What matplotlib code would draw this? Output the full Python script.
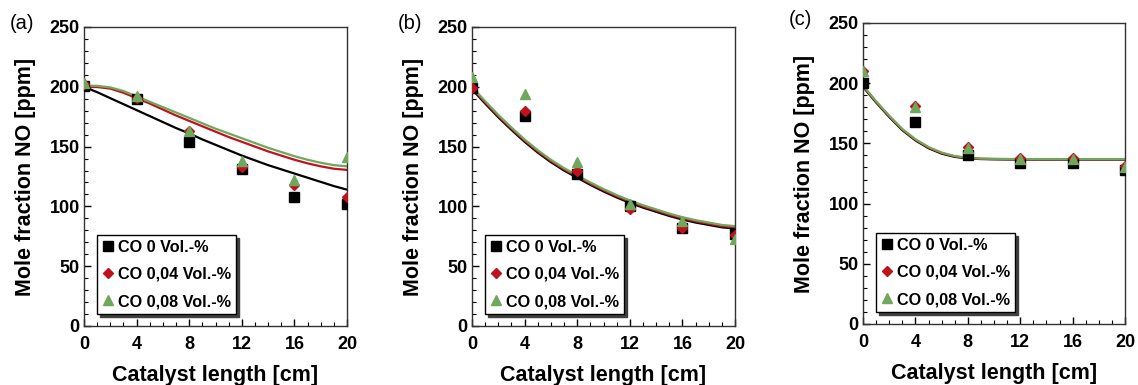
import matplotlib
matplotlib.use("Agg")
import matplotlib.pyplot as plt
from matplotlib.ticker import MultipleLocator

plt.rcParams['font.family'] = ['Liberation Sans', 'DejaVu Sans']

# measured points
x_meas = [0, 4, 8, 12, 16, 20]

a_co0 = [201, 190, 154, 131, 108, 102]
a_co004 = [202, 191, 163, 133, 118, 108]
a_co008 = [203, 192, 163, 138, 122, 141]

b_co0 = [199, 176, 127, 100, 82, 77]
b_co004 = [199, 180, 130, 98, 82, 76]
b_co008 = [208, 194, 137, 102, 88, 73]

c_co0 = [200, 168, 140, 134, 134, 128]
c_co004 = [210, 181, 147, 138, 138, 131]
c_co008 = [210, 180, 146, 137, 137, 130]

# model curves
x_model = [0, 1, 2, 3, 4, 5, 6, 7, 8, 9, 10, 11, 12, 13, 14, 15, 16, 17, 18, 19, 20]

a_m0 = [200, 195.5, 190.5, 185.5, 180.5, 175.5, 170.5, 165.5, 161, 156, 151.5, 147, 142.5, 138.5, 134.5, 131, 127.5, 124, 120.5, 117, 114]
a_m004 = [200, 199.8, 198.5, 195, 190.5, 186, 181, 176, 171.5, 167, 162.5, 158, 154, 150, 146, 142.5, 139, 136, 133.5, 131.5, 130.5]
a_m008 = [201, 200.8, 199.5, 196.5, 192, 187.5, 183, 178.5, 174, 169.5, 165, 161, 157, 153, 149, 145.5, 142, 139, 136.5, 134.5, 133.5]

b_m0 = [198, 186, 174.5, 164, 154, 145, 137, 130, 124, 118, 112.5, 107.5, 103, 99, 95.5, 92, 89, 86.5, 84.5, 82.5, 81.5]
b_m004 = [199, 187, 175.5, 165, 155, 146, 138, 131, 125, 119, 113.5, 108.5, 104, 100, 96.5, 93, 90, 87.5, 85.5, 83.5, 82.5]
b_m008 = [200, 188, 176.5, 166, 156, 147, 139, 132, 126, 120, 114.5, 109.5, 105, 101, 97.5, 94, 91, 88.5, 86.5, 84.5, 83.5]

c_m0 = [197, 184, 172, 161, 152.5, 146, 141.5, 138.8, 137.5, 137, 136.8, 136.7, 136.6, 136.6, 136.6, 136.6, 136.6, 136.6, 136.6, 136.6, 136.6]
c_m004 = [197.5, 184.5, 172.5, 161.5, 153, 146.5, 142, 139.2, 137.8, 137.2, 137, 136.9, 136.8, 136.8, 136.8, 136.8, 136.8, 136.8, 136.8, 136.8, 136.8]
c_m008 = [198, 185, 173, 162, 153.5, 147, 142.4, 139.5, 138, 137.4, 137.2, 137.1, 137, 137, 137, 137, 137, 137, 137, 137, 137]

labels = ["CO 0 Vol.-%", "CO 0,04 Vol.-%", "CO 0,08 Vol.-%"]
panel_names = ["(a)", "(b)", "(c)"]

BLACK = "#000000"
RED = "#c0121c"
GREEN = "#6fa85c"

fig = plt.figure(figsize=(11.38, 3.85), dpi=100)

positions = [
    [84 / 1138, 1 - 326 / 385, 263 / 1138, 299 / 385],
    [472 / 1138, 1 - 326 / 385, 263 / 1138, 299 / 385],
    [863 / 1138, 1 - 324 / 385, 262 / 1138, 301 / 385],
]

panels = [
    (a_co0, a_co004, a_co008, a_m0, a_m004, a_m008),
    (b_co0, b_co004, b_co008, b_m0, b_m004, b_m008),
    (c_co0, c_co004, c_co008, c_m0, c_m004, c_m008),
]

for i, (pos, data) in enumerate(zip(positions, panels)):
    ax = fig.add_axes(pos)
    s0, s1, s2, m0, m1, m2 = data
    ax.plot(x_model, m0, color=BLACK, lw=1.6, zorder=2)
    ax.plot(x_model, m1, color=RED, lw=1.6, zorder=2)
    ax.plot(x_model, m2, color=GREEN, lw=1.6, zorder=2)
    h0, = ax.plot(x_meas, s0, 's', color=BLACK, ms=6.5, ls='none', zorder=3, label=labels[0])
    h1, = ax.plot(x_meas, s1, 'D', color=RED, ms=5.5, ls='none', zorder=4, label=labels[1])
    h2, = ax.plot(x_meas, s2, '^', color=GREEN, ms=7.5, ls='none', zorder=5, label=labels[2])

    ax.set_xlim(0, 20)
    ax.set_ylim(0, 250)
    ax.xaxis.set_major_locator(MultipleLocator(4))
    ax.xaxis.set_minor_locator(MultipleLocator(1))
    ax.yaxis.set_major_locator(MultipleLocator(50))
    ax.yaxis.set_minor_locator(MultipleLocator(10))
    ax.tick_params(axis='both', which='both', direction='in', top=False, right=False)
    ax.tick_params(axis='both', which='major', length=5, width=1, labelsize=13)
    ax.tick_params(axis='x', which='major', pad=7)
    ax.tick_params(axis='y', which='major', pad=3)
    ax.tick_params(axis='both', which='minor', length=3, width=0.8)
    for lab in ax.get_xticklabels() + ax.get_yticklabels():
        lab.set_fontweight('bold')
    for sp in ax.spines.values():
        sp.set_color('#333333')
        sp.set_linewidth(1.0)

    ax.set_xlabel("Catalyst length [cm]", fontsize=15.5, fontweight='bold', labelpad=9)
    ax.set_ylabel("Mole fraction NO [ppm]", fontsize=15.5, fontweight='bold', labelpad=10)

    ax.text(-0.283, 1.013, panel_names[i], transform=ax.transAxes, fontsize=14.5,
            ha='left', va='center')

    leg = ax.legend(handles=[h0, h1, h2], loc='lower left', bbox_to_anchor=(0.05, 0.04),
                    frameon=True, fancybox=False, shadow={'color': '0.25', 'alpha': 1.0},
                    prop={'weight': 'bold', 'size': 11.7}, handlelength=0.7, handletextpad=0.3,
                    borderpad=0.3, labelspacing=0.75, borderaxespad=0)
    leg.get_frame().set_edgecolor('black')
    leg.get_frame().set_linewidth(1.0)

fig.savefig("out.png", dpi=100)
